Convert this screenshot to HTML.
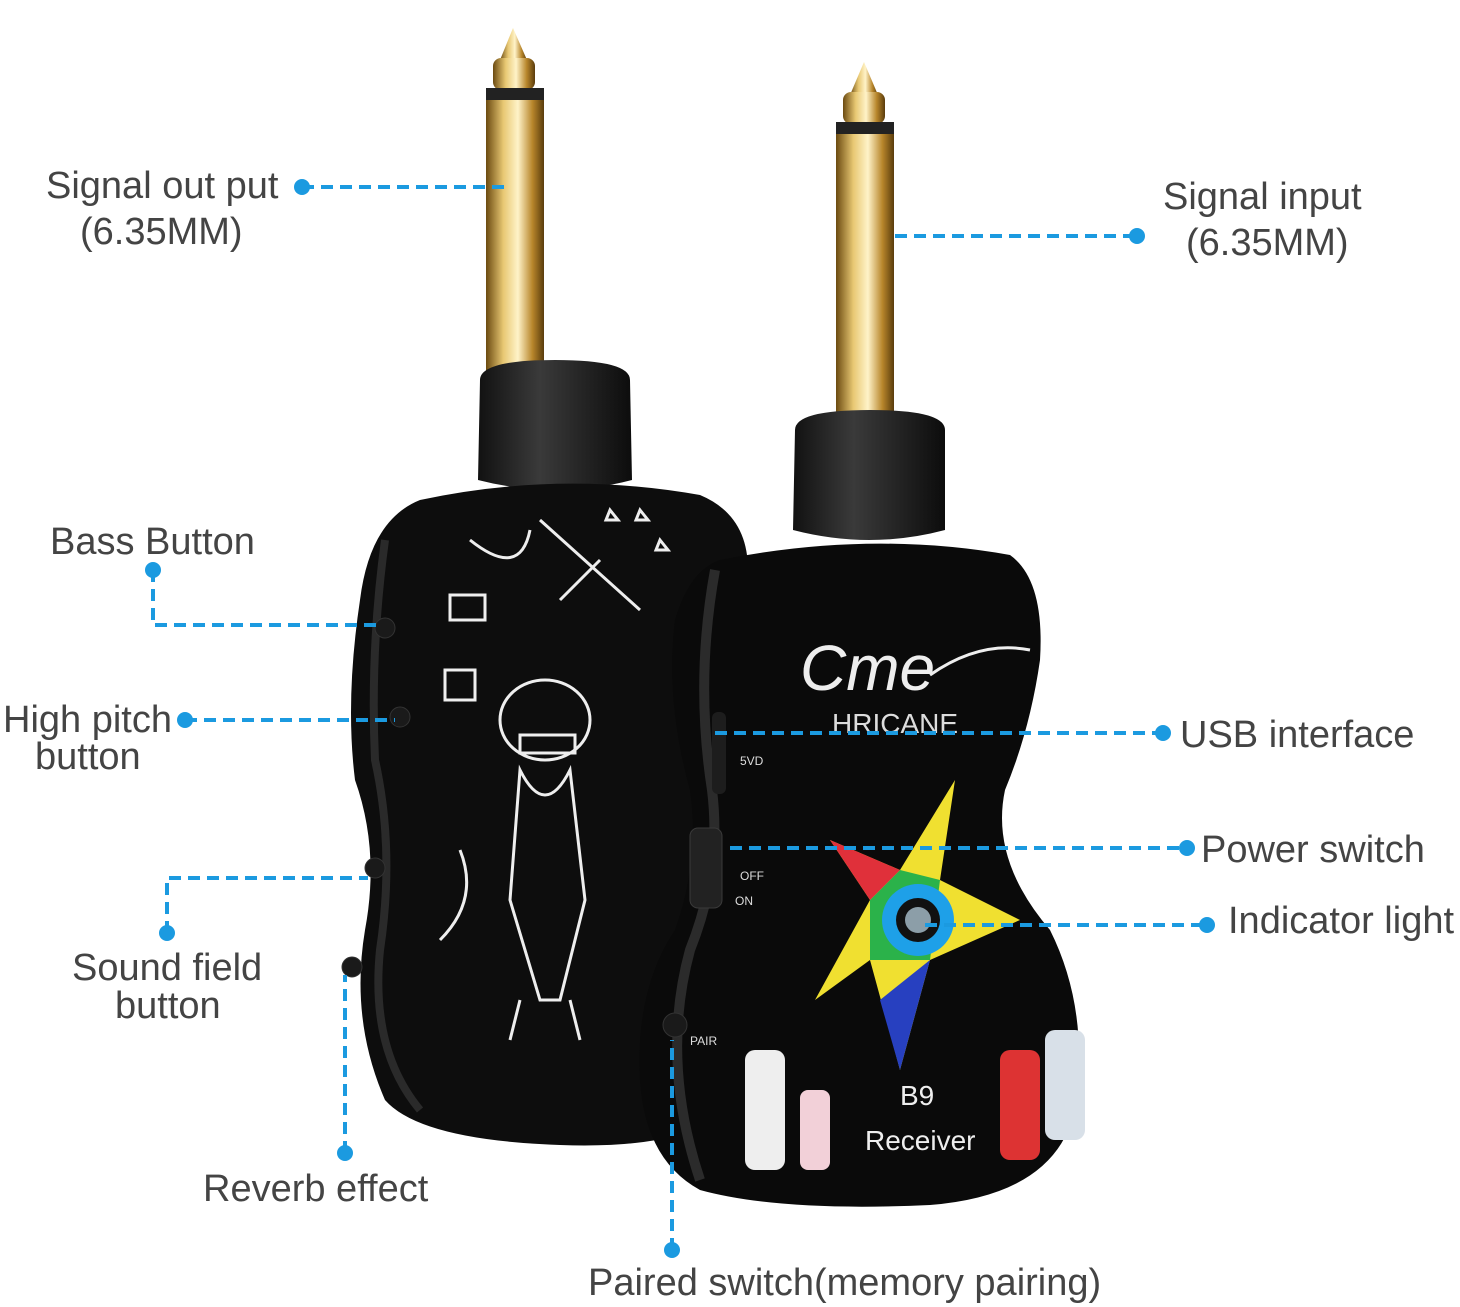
<!DOCTYPE html>
<html><head><meta charset="utf-8"><style>
html,body{margin:0;padding:0;background:#fff}
svg{display:block}
text{font-family:"Liberation Sans",sans-serif}
</style></head><body>
<svg width="1460" height="1307" viewBox="0 0 1460 1307" xmlns="http://www.w3.org/2000/svg">
<defs>
<linearGradient id="gold" x1="0" x2="1">
<stop offset="0" stop-color="#6b4a10"/><stop offset="0.3" stop-color="#e8c873"/><stop offset="0.55" stop-color="#fff3c8"/><stop offset="0.8" stop-color="#b8862b"/><stop offset="1" stop-color="#5a3c0c"/></linearGradient>
<linearGradient id="coll" x1="0" x2="1">
<stop offset="0" stop-color="#111"/><stop offset="0.4" stop-color="#3a3a3a"/><stop offset="1" stop-color="#0c0c0c"/></linearGradient>
</defs>
<path d="M500 60 L513 28 L527 60 Z" fill="url(#gold)"/>
<rect x="493" y="58" width="42" height="32" rx="8" fill="url(#gold)"/>
<rect x="486" y="88" width="58" height="14" fill="#222"/>
<rect x="486" y="100" width="58" height="280" fill="url(#gold)"/>
<path d="M480 380 Q480 360 555 360 Q630 360 630 380 L632 480 Q555 500 478 480 Z" fill="url(#coll)"/>
<path d="M420 500 Q560 470 700 495 Q760 520 745 600 Q735 700 705 760 Q690 830 740 900 Q770 1000 735 1100 Q700 1150 560 1145 Q420 1140 385 1100 Q350 1020 365 930 Q380 850 355 780 Q345 700 360 600 Q370 520 420 500 Z" fill="#0d0d0d"/>
<path d="M385 540 Q370 650 375 760 Q395 850 380 950 Q370 1050 420 1110" fill="none" stroke="#2a2a2a" stroke-width="8"/>
<circle cx="385" cy="628" r="10" fill="#1a1a1a" stroke="#333"/>
<circle cx="400" cy="717" r="10" fill="#1a1a1a" stroke="#333"/>
<circle cx="375" cy="868" r="10" fill="#1a1a1a" stroke="#333"/>
<circle cx="352" cy="967" r="10" fill="#1a1a1a" stroke="#333"/>
<g fill="none" stroke="#eee" stroke-width="3">
<ellipse cx="545" cy="720" rx="45" ry="40"/>
<rect x="520" y="735" width="55" height="18"/>
<path d="M520 770 Q545 820 570 770 L585 900 L560 1000 L540 1000 L510 900 Z"/>
<path d="M520 1000 L510 1040 M570 1000 L580 1040"/>
<path d="M540 520 L640 610 M600 560 L560 600"/>
<path d="M610 510 l8 10 l-12 0 z M640 510 l8 10 l-12 0 z M660 540 l8 10 l-12 0 z"/>
<rect x="450" y="595" width="35" height="25"/>
<rect x="445" y="670" width="30" height="30"/>
<path d="M470 540 Q520 580 530 530 M460 850 Q480 900 440 940"/>
</g>
<path d="M850 95 L864 62 L878 95 Z" fill="url(#gold)"/>
<rect x="843" y="92" width="42" height="32" rx="8" fill="url(#gold)"/>
<rect x="836" y="122" width="58" height="14" fill="#222"/>
<rect x="836" y="134" width="58" height="292" fill="url(#gold)"/>
<path d="M795 430 Q795 410 870 410 Q945 410 945 430 L945 530 Q870 550 793 530 Z" fill="url(#coll)"/>
<path d="M720 560 Q870 530 1010 555 Q1045 580 1040 660 Q1030 730 1005 790 Q990 860 1050 930 Q1090 1010 1075 1110 Q1055 1195 930 1205 Q780 1212 700 1190 Q645 1160 640 1080 Q635 990 675 930 Q700 860 690 790 Q665 700 675 620 Q690 570 720 560 Z" fill="#0a0a0a"/>
<path d="M715 570 Q695 680 712 790 Q722 870 690 950 Q660 1060 700 1180" fill="none" stroke="#2b2b2b" stroke-width="10"/>
<rect x="712" y="712" width="14" height="82" rx="6" fill="#1d1d1d"/>
<rect x="690" y="828" width="32" height="80" rx="8" fill="#222" stroke="#3a3a3a"/>
<circle cx="675" cy="1025" r="12" fill="#1a1a1a" stroke="#333"/>
<text x="740" y="765" fill="#ddd" font-size="12">5VD</text>
<text x="740" y="880" fill="#ddd" font-size="12">OFF</text>
<text x="735" y="905" fill="#ddd" font-size="12">ON</text>
<text x="690" y="1045" fill="#ddd" font-size="12">PAIR</text>
<text x="800" y="690" fill="#eee" font-size="64" font-family="Liberation Serif" font-style="italic">Cme</text>
<path d="M930 675 Q980 640 1030 650" stroke="#eee" stroke-width="3" fill="none"/>
<text x="832" y="733" fill="#ddd" font-size="28" font-family="Liberation Serif">HRICANE</text>
<polygon points="955,780 940,880 1020,920 930,960 900,1070 870,960 815,1000 870,900 830,840 900,870" fill="#f0e030"/>
<polygon points="900,870 940,880 930,960 870,960 870,900" fill="#2bb24a"/>
<polygon points="930,960 900,1070 880,1000" fill="#2740c0"/>
<polygon points="830,840 900,870 870,900" fill="#e0303a"/>
<circle cx="918" cy="920" r="36" fill="#1ea0e8"/>
<circle cx="918" cy="920" r="22" fill="#111"/>
<circle cx="918" cy="920" r="13" fill="#8c9ea8"/>
<rect x="745" y="1050" width="40" height="120" rx="10" fill="#eee"/>
<rect x="800" y="1090" width="30" height="80" rx="8" fill="#f2d0d8"/>
<rect x="1000" y="1050" width="40" height="110" rx="10" fill="#d33"/>
<rect x="1045" y="1030" width="40" height="110" rx="10" fill="#d8e0e8"/>
<text x="900" y="1105" fill="#eee" font-size="28" font-family="Liberation Serif">B9</text>
<text x="865" y="1150" fill="#eee" font-size="28" font-family="Liberation Serif">Receiver</text>
<g stroke="#1b9ae0" stroke-width="4" stroke-dasharray="12 7" fill="none">
<path d="M302 187 H505"/>
<path d="M895 236 H1137"/>
<path d="M153 570 V625 H378"/>
<path d="M185 720 H395"/>
<path d="M167 933 V878 H368"/>
<path d="M345 1153 V975"/>
<path d="M672 1250 V1040"/>
<path d="M715 733 H1163"/>
<path d="M730 848 H1187"/>
<path d="M925 925 H1207"/>
</g>
<g fill="#1b9ae0">
<circle cx="302" cy="187" r="8"/><circle cx="1137" cy="236" r="8"/>
<circle cx="153" cy="570" r="8"/><circle cx="185" cy="720" r="8"/>
<circle cx="167" cy="933" r="8"/><circle cx="345" cy="1153" r="8"/>
<circle cx="672" cy="1250" r="8"/><circle cx="1163" cy="733" r="8"/>
<circle cx="1187" cy="848" r="8"/><circle cx="1207" cy="925" r="8"/>
</g>
<g fill="#444" font-size="38">
<text x="46" y="198">Signal out put</text>
<text x="80" y="244">(6.35MM)</text>
<text x="1163" y="209">Signal input</text>
<text x="1186" y="255">(6.35MM)</text>
<text x="50" y="554">Bass Button</text>
<text x="3" y="732">High pitch</text>
<text x="35" y="769">button</text>
<text x="72" y="980">Sound field</text>
<text x="115" y="1018">button</text>
<text x="203" y="1201">Reverb effect</text>
<text x="588" y="1295">Paired switch(memory pairing)</text>
<text x="1180" y="747">USB interface</text>
<text x="1201" y="862">Power switch</text>
<text x="1228" y="933">Indicator light</text>
</g>
</svg>
</body></html>
